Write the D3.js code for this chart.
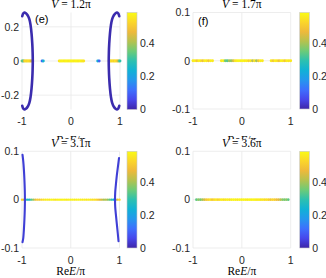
<!DOCTYPE html>
<html><head><meta charset="utf-8">
<script src="https://cdn.jsdelivr.net/npm/d3@7"></script>
<style>body{margin:0;background:#fff}svg{display:block}</style>
</head><body><svg id="c" width="326" height="278"></svg>
<script>
// ---------- data ----------
const vValues = ["1.2", "1.7", "3.1", "3.6"];
const panelLabels = ["(e)", "(f)", "(g)", "(h)"];
const xTicks = [-1, 0, 1];
const yTicksE = [-0.2, 0, 0.2];
const yTicksOther = [-0.1, 0, 0.1];
const cbTicks = [0, 0.2, 0.4];
const cbMax = 0.588;

// panel (e): real-axis eigenvalues (ReE/pi) and colour value
const eRe  = [-1.00,-0.98,-0.96,-0.94,-0.92,-0.90,-0.88,-0.86,-0.84,-0.82,-0.80,
              -0.59,-0.565,
              -0.24,-0.215,-0.19,-0.165,-0.14,-0.115,-0.09,-0.065,-0.04,-0.015,0.01,0.035,0.06,0.085,0.11,0.135,0.16,0.185,0.21,0.235,0.26,
              0.545,0.575,
              0.78,0.80,0.82,0.84,0.86,0.88,0.90,0.92,0.94,0.96,0.98,1.00];
const eVal = [0.36,0.30,0.42,0.52,0.55,0.50,0.56,0.52,0.55,0.48,0.44,
              0.10,0.24,
              0.55,0.57,0.57,0.58,0.56,0.57,0.58,0.57,0.56,0.58,0.57,0.58,0.56,0.57,0.58,0.57,0.56,0.58,0.57,0.56,0.55,
              0.24,0.10,
              0.44,0.50,0.56,0.52,0.55,0.50,0.56,0.53,0.52,0.46,0.36,0.30];
// panel (e): complex branches (ReE/pi, ImE/pi), value ~0
const eLeftRe  = [-0.995,-0.975,-0.95,-0.92,-0.885,-0.85,-0.825,-0.805,-0.79,-0.783,-0.78,-0.783,-0.79,-0.805,-0.825,-0.85,-0.885,-0.92,-0.95,-0.975,-0.995];
const eLeftIm  = [0.262,0.278,0.284,0.280,0.268,0.245,0.21,0.16,0.10,0.05,0,-0.05,-0.10,-0.16,-0.21,-0.245,-0.268,-0.280,-0.284,-0.278,-0.262];
const eRightRe = [0.985,0.965,0.94,0.91,0.875,0.84,0.815,0.795,0.78,0.773,0.77,0.773,0.78,0.795,0.815,0.84,0.875,0.91,0.94,0.965,0.985];
const eRightIm = [0.262,0.278,0.284,0.280,0.268,0.245,0.21,0.16,0.10,0.05,0,-0.05,-0.10,-0.16,-0.21,-0.245,-0.268,-0.280,-0.284,-0.278,-0.262];

// panel (f)
const fRe  = [-1.00,-0.96,-0.92,-0.88,-0.84,-0.80,-0.76,-0.72,-0.68,-0.64,-0.60,
              -0.42,-0.38,-0.34,-0.30,-0.26,-0.22,-0.18,-0.14,-0.10,-0.06,-0.02,0.02,0.06,0.10,0.14,0.18,0.22,0.26,0.30,0.34,0.38,0.42,
              0.60,0.64,0.68,0.72,0.76,0.80,0.84,0.88,0.92,0.96,1.00];
const fVal = [0.56,0.57,0.50,0.57,0.55,0.49,0.57,0.56,0.50,0.57,0.56,
              0.56,0.57,0.36,0.33,0.40,0.38,0.44,0.55,0.57,0.58,0.57,0.58,0.56,0.57,0.52,0.56,0.42,0.55,0.40,0.50,0.57,0.56,
              0.56,0.50,0.57,0.55,0.49,0.57,0.56,0.50,0.57,0.55,0.56];

// panel (g)
const gRe  = [-1.00,-0.96,-0.92,-0.88,-0.84,-0.80,-0.76,-0.72,-0.68,-0.64,-0.60,-0.56,-0.52,-0.48,-0.44,-0.40,-0.36,-0.32,-0.28,-0.24,-0.20,-0.16,-0.12,-0.08,-0.04,
              0.00,0.04,0.08,0.12,0.16,0.20,0.24,0.28,0.32,0.36,0.40,0.44,0.48,0.52,0.56,0.60,0.64,0.68,0.72,0.76,0.80,0.84,0.88,0.92,0.96,1.00];
const gVal = [0.52,0.45,0.30,0.25,0.28,0.34,0.40,0.48,0.52,0.50,0.53,0.55,0.56,0.57,0.56,0.58,0.57,0.55,0.57,0.58,0.57,0.58,0.57,0.56,0.58,
              0.57,0.58,0.56,0.57,0.58,0.57,0.56,0.57,0.55,0.57,0.56,0.54,0.55,0.53,0.50,0.46,0.44,0.40,0.42,0.38,0.34,0.28,0.24,0.30,0.48,0.54];
const gLeftRe  = [-0.99,-0.975,-0.96,-0.95,-0.943,-0.94,-0.943,-0.95,-0.96,-0.975,-0.99];
const gLeftIm  = [0.093,0.08,0.06,0.04,0.02,0,-0.02,-0.04,-0.06,-0.08,-0.088];
const gRightRe = [0.99,0.97,0.945,0.925,0.912,0.908,0.912,0.925,0.945,0.965,0.98];
const gRightIm = [0.086,0.07,0.05,0.03,0.015,0,-0.015,-0.03,-0.05,-0.07,-0.086];

// panel (h)
const hRe  = [-0.93,-0.89,-0.85,-0.81,-0.77,-0.73,-0.69,-0.65,-0.61,-0.57,-0.53,-0.49,-0.45,-0.41,-0.37,-0.33,-0.29,-0.25,
              -0.21,-0.17,-0.13,-0.09,-0.05,-0.01,0.03,0.07,0.11,0.15,0.19,0.23,0.27,0.31,0.35,0.39,0.43,
              0.47,0.51,0.55,0.59,0.63,0.67,0.71,0.75,0.79,0.83,0.87,0.91,0.95];
const hVal = [0.34,0.38,0.36,0.40,0.44,0.50,0.52,0.55,0.50,0.53,0.56,0.52,0.55,0.57,0.54,0.56,0.57,0.55,
              0.57,0.58,0.57,0.56,0.58,0.57,0.58,0.57,0.56,0.58,0.57,0.58,0.57,0.56,0.57,0.55,0.56,
              0.53,0.55,0.52,0.50,0.53,0.51,0.48,0.46,0.42,0.38,0.36,0.38,0.34];

// parula colour map stops
const parulaStops = ["#3e26a8","#4747eb","#3e6ffd","#2597ed","#11b1d6","#2cc0b0","#6ccb78","#b4c24f","#eeb93b","#fbd62a","#f9fb15"];

// ---------- drawing ----------
const svg = d3.select("#c");
const parula = d3.scaleLinear().domain(d3.range(parulaStops.length).map(i => i / (parulaStops.length - 1)))
  .range(parulaStops).interpolate(d3.interpolateRgb).clamp(true);
const colorOf = v => parula(v / cbMax);

const defs = svg.append("defs");
const grad = defs.append("linearGradient").attr("id", "cbgrad").attr("x1", 0).attr("y1", 1).attr("x2", 0).attr("y2", 0);
grad.selectAll("stop").data(parulaStops).join("stop")
  .attr("offset", (d, i) => i / (parulaStops.length - 1)).attr("stop-color", d => d);

const panels = [
  {cell:[0,0], px:[22,120], py:[12.5,109.5], ydom:[-0.284,0.284], yt:yTicksE, cb:[127,137], lab:[35,23], xlY:144,
   re:eRe, val:eVal, r:1.45, br:[[eLeftRe,eLeftIm],[eRightRe,eRightIm]], bw:2.6},
  {cell:[163,0], px:[193,290.7], py:[12.5,109], ydom:[-0.1,0.1], yt:yTicksOther, cb:[299.7,309.3], lab:[198,25], xlY:144,
   re:fRe, val:fVal, r:1.45, br:[], bw:2},
  {cell:[0,139], px:[22,119.5], py:[151.3,248], ydom:[-0.1,0.1], yt:yTicksOther, cb:[127,137], lab:[26.5,24], xlY:135.5,
   re:gRe, val:gVal, r:1.2, br:[[gLeftRe,gLeftIm],[gRightRe,gRightIm]], bw:2.1},
  {cell:[163,139], px:[193,290.7], py:[151.3,248], ydom:[-0.1,0.1], yt:yTicksOther, cb:[299.7,309.3], lab:[198,25], xlY:135.5,
   re:hRe, val:hVal, r:1.3, br:[], bw:2}
];

const tickFont = "Liberation Sans, Arial, sans-serif";
const serif = "Liberation Serif, Times New Roman, serif";

panels.forEach((p, i) => {
  const [cx, cy] = p.cell;
  const clipId = "clip" + i;
  defs.append("clipPath").attr("id", clipId).append("rect")
    .attr("x", cx).attr("y", cy).attr("width", 163).attr("height", 139);
  const g = svg.append("g").attr("clip-path", `url(#${clipId})`);
  const x = d3.scaleLinear().domain([-1, 1]).range(p.px);
  const y = d3.scaleLinear().domain(p.ydom).range([p.py[1], p.py[0]]);

  // grid
  g.append("g").selectAll("line").data(xTicks).join("line")
    .attr("x1", d => x(d)).attr("x2", d => x(d)).attr("y1", p.py[0]).attr("y2", p.py[1])
    .attr("stroke", "#e8e8e8").attr("stroke-width", 0.8);
  g.append("g").selectAll("line").data(p.yt).join("line")
    .attr("x1", p.px[0]).attr("x2", p.px[1]).attr("y1", d => y(d)).attr("y2", d => y(d))
    .attr("stroke", "#e8e8e8").attr("stroke-width", 0.8);

  // tick labels
  g.append("g").selectAll("text").data(xTicks).join("text")
    .attr("x", d => x(d)).attr("y", p.py[1] + 15.5).attr("text-anchor", "middle")
    .attr("font-family", tickFont).attr("font-size", 10.5).attr("fill", "#262626")
    .text(d => String(d));
  g.append("g").selectAll("text").data(p.yt).join("text")
    .attr("x", p.px[0] - 3).attr("y", d => y(d) + 3.8).attr("text-anchor", "end")
    .attr("font-family", tickFont).attr("font-size", 10.5).attr("fill", "#262626")
    .text(d => String(d));

  // real-axis points
  g.append("g").selectAll("circle").data(p.re.map((r, k) => [r, p.val[k]])).join("circle")
    .attr("cx", d => x(d[0])).attr("cy", y(0)).attr("r", p.r).attr("fill", d => colorOf(d[1]));

  // complex branches
  const line = d3.line().x(d => x(d[0])).y(d => y(d[1])).curve(d3.curveCatmullRom);
  p.br.forEach(([rr, ii]) => {
    g.append("path").datum(rr.map((r, k) => [r, ii[k]])).attr("d", line)
      .attr("fill", "none").attr("stroke", i === 0 ? "#3b2cae" : "#3f3fd6").attr("stroke-width", p.bw)
      .attr("stroke-linecap", "round");
  });

  // panel label
  g.append("text").attr("x", p.lab[0]).attr("y", p.lab[1]).attr("font-family", tickFont)
    .attr("font-size", 11).attr("fill", "#000").text(panelLabels[i]);

  // title
  const mid = (p.px[0] + p.px[1]) / 2;
  const t = g.append("text").attr("x", mid).attr("y", cy + 7.5).attr("text-anchor", "middle")
    .attr("font-family", serif).attr("font-size", 11.5).attr("fill", "#000");
  t.append("tspan").attr("font-style", "italic").text("V");
  t.append("tspan").text(" = " + vValues[i] + "π");

  // x label
  const xl = g.append("text").attr("x", mid).attr("y", cy + p.xlY).attr("text-anchor", "middle")
    .attr("font-family", serif).attr("font-size", 11.5).attr("fill", "#000");
  xl.append("tspan").text("Re");
  xl.append("tspan").attr("font-style", "italic").text("E");
  xl.append("tspan").text("/π");

  // colorbar
  const cbY = d3.scaleLinear().domain([0, cbMax]).range([p.py[1], p.py[0]]);
  g.append("rect").attr("x", p.cb[0]).attr("y", p.py[0]).attr("width", p.cb[1] - p.cb[0])
    .attr("height", p.py[1] - p.py[0]).attr("fill", "url(#cbgrad)")
    .attr("stroke", "#c8c8c8").attr("stroke-width", 0.6);
  g.append("g").selectAll("text").data(cbTicks).join("text")
    .attr("x", p.cb[1] + 3).attr("y", d => cbY(d) + 3.8)
    .attr("font-family", tickFont).attr("font-size", 10.5).attr("fill", "#262626")
    .text(d => String(d));
});
</script></body></html>
